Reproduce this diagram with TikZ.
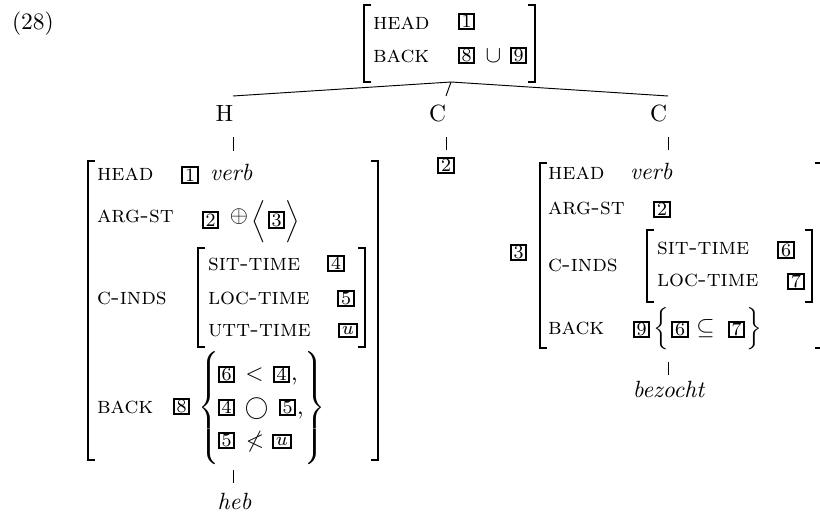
\documentclass[tikz,border=0pt]{standalone}
\usepackage{amssymb}
\newcommand\avmL[3]{\draw[brk] ({#1+7},#2) -- (#1,#2) -- (#1,#3) -- ({#1+7},#3);}
\newcommand\avmR[3]{\draw[brk] ({#1-7},#2) -- (#1,#2) -- (#1,#3) -- ({#1-7},#3);}
\newcommand\bigdelim[2]{$\delimiterfactor=1001\delimitershortfall=0pt\nulldelimiterspace=0pt\left#1\vcenter{\hbox{\rule{0pt}{#2}}}\right.$}
\begin{document}
\begin{tikzpicture}[x=0.4255pt,y=-0.4255pt,
  every node/.style={inner sep=0pt, outer sep=0pt},
  feat/.style={anchor=base west, font=\scshape},
  txt/.style={anchor=base west},
  sym/.style={anchor=base},
  tag/.style={draw, line width=0.9pt, minimum width=6.6pt, minimum height=6.6pt, font=\footnotesize, anchor=center},
  utag/.style={tag, minimum width=7.8pt, minimum height=5.8pt},
  brk/.style={line width=0.45pt},
  branch/.style={line width=0.4pt}]
\useasboundingbox (0,0) rectangle (820,514);
\node[txt] (num) at (12,30) {(28)};
% top AVM
\avmL{364}{5}{82}
\avmR{535}{5}{82}
\coordinate (apex) at (451,82);
\node[feat] (tHEAD) at (373,30) {head};
\node[tag] (t1) at (466.5,21.5) {1};
\node[feat] (tBACK) at (373,63) {back};
\node[tag] (t8) at (466.5,55.5) {8};
\node[sym] (tcup) at (493.5,63) {$\cup$};
\node[tag] (t9) at (518.5,55.5) {9};
% tree labels
\node[sym] (H) at (224.5,122) {H};
\node[sym] (C1) at (437.5,122) {C};
\node[sym] (C2) at (658.5,122) {C};
\coordinate (Hup) at (233,96);
\coordinate (C1up) at (446,96);
\coordinate (C2up) at (668,96);
\draw[branch] (apex) -- (Hup);
\draw[branch] (apex) -- (C1up);
\draw[branch] (apex) -- (C2up);
\coordinate (Hs1) at (233,137); \coordinate (Hs2) at (233,151);
\coordinate (C1s1) at (446,137); \coordinate (C1s2) at (446,150);
\coordinate (C2s1) at (668,137); \coordinate (C2s2) at (668,150);
\draw[branch] (Hs1) -- (Hs2);
\draw[branch] (C1s1) -- (C1s2);
\draw[branch] (C2s1) -- (C2s2);
\node[tag] (m2) at (446,165.5) {2};
% H AVM
\avmL{88}{161}{460}
\avmR{378}{161}{460}
\node[feat] (hHEAD) at (97,181) {head};
\node[tag] (h1) at (190,175) {1};
\node[txt] (hverb) at (210,181) {\textit{verb}};
\node[feat] (hARG) at (97,223) {arg-st};
\node[tag] (h2) at (210.5,220) {2};
\node[sym] (hoplus) at (239,223) {$\oplus$};
\node (hla) at (259,221.5) {$\Big\langle$};
\node[tag] (h3) at (276.5,220) {3};
\node (hra) at (293,221.5) {$\Big\rangle$};
\node[feat] (hCIND) at (97,305) {c-inds};
\avmL{198}{248}{347}
\avmR{365}{248}{347}
\node[feat] (hSIT) at (208,271) {sit-time};
\node[tag] (h4) at (336,263.5) {4};
\node[feat] (hLOC) at (208,305) {loc-time};
\node[tag] (h5) at (346,298.5) {5};
\node[feat] (hUTT) at (208,337) {utt-time};
\node[utag] (hu) at (348,330.5) {$u$};
\node[feat] (hBACK) at (97,413) {back};
\node[tag] (h8) at (181.5,406.5) {8};
\node (hlb) at (209,408) {\bigdelim{\{}{42.5pt}};
\node (hrb) at (315,408) {$\delimiterfactor=1001\delimitershortfall=0pt\nulldelimiterspace=0pt\left.\vcenter{\hbox{\rule{0pt}{42.5pt}}}\right\}$};
\node[tag] (r1a) at (226.5,374.5) {6};
\node[sym] (r1lt) at (254.5,381) {$<$};
\node[tag] (r1b) at (281.5,374.5) {4};
\node[txt] (r1c) at (291,381) {,};
\node[tag] (r2a) at (226.5,407.5) {4};
\node[sym] (r2o) at (256.5,414) {$\bigcirc$};
\node[tag] (r2b) at (287.5,407.5) {5};
\node[txt] (r2c) at (297,414) {,};
\node[tag] (r3a) at (226.5,440.5) {5};
\node[sym] (r3nl) at (255,447) {$\nless$};
\node[utag] (r3b) at (282,441.5) {$u$};
\coordinate (Hb1) at (233,470); \coordinate (Hb2) at (233,483);
\draw[branch] (Hb1) -- (Hb2);
\node[sym] (heb) at (234.5,509) {\textit{heb}};
% right AVM
\node[tag] (c3) at (518.5,252.5) {3};
\avmL{540}{163}{348}
\avmR{822}{163}{348}
\node[feat] (cHEAD) at (548,180) {head};
\node[txt] (cverb) at (630,180) {\textit{verb}};
\node[feat] (cARG) at (548,215) {arg-st};
\node[tag] (c2) at (662,209.5) {2};
\node[feat] (cCIND) at (548,272) {c-inds};
\avmL{647}{230}{302}
\avmR{812}{230}{302}
\node[feat] (cSIT) at (657,255) {sit-time};
\node[tag] (c6) at (786,250) {6};
\node[feat] (cLOC) at (657,287) {loc-time};
\node[tag] (c7) at (796,281.5) {7};
\node[feat] (cBACK) at (548,335) {back};
\node[tag] (c9) at (641.5,329.5) {9};
\node (clb) at (661,329) {$\Big\{$};
\node[tag] (c6b) at (680,329.5) {6};
\node[sym] (csub) at (705.5,335) {$\subseteq$};
\node[tag] (c7b) at (736.5,329.5) {7};
\node (crb) at (754,329) {$\Big\}$};
\coordinate (Cb1) at (668,362); \coordinate (Cb2) at (668,375);
\draw[branch] (Cb1) -- (Cb2);
\node[sym] (bez) at (669,398) {\textit{bezocht}};
\end{tikzpicture}
\end{document}
